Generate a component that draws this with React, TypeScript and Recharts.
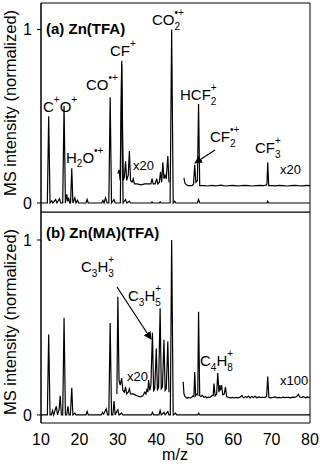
import React from 'react';
import { LineChart, Line, XAxis, YAxis, ReferenceArea } from 'recharts';

type Pt = [number, number];

const FONT = '"Liberation Sans", Arial, Helvetica, sans-serif';

// m/z axis
const MAJOR_TICKS = [10, 20, 30, 40, 50, 60, 70, 80];
const MINOR_TICKS = Array.from({ length: 71 }, (_, i) => 10 + i);
const Y_TICKS = [0, 1];

const TOP_DOMAIN: [number, number] = [-0.052, 1.153];
const BOT_DOMAIN: [number, number] = [-0.046, 1.16];

// (a) Zn(TFA), main trace
const topMain: Pt[] = [
  [10, 0], [11.65, 0], [12, 0.5], [12.35, 0], [12.8, 0.012], [13.1, 0], [13.8, 0.02], [14.15, 0],
  [14.8, 0.025], [15.15, 0], [15.65, 0], [16, 0.56], [16.35, 0], [16.7, 0.05], [16.95, 0.01],
  [17.2, 0.03], [17.45, 0], [17.7, 0], [18, 0.2], [18.3, 0], [18.8, 0.03], [19.1, 0], [19.5, 0.015],
  [19.8, 0], [21.7, 0], [22, 0.02], [22.3, 0], [25.8, 0], [26.1, 0.015], [26.4, 0], [26.8, 0.03],
  [27.2, 0], [27.65, 0], [28, 0.61], [28.35, 0], [29, 0.02], [29.3, 0], [30.65, 0], [31, 0.82],
  [31.35, 0], [32, 0.02], [32.3, 0], [33, 0.01], [33.3, 0], [38.7, 0], [38.9, 0.006], [39.1, 0],
  [40.8, 0], [41, 0.006], [41.2, 0], [43.6, 0], [44, 1.0], [44.4, 0], [44.8, 0.01], [45.1, 0],
  [50.7, 0], [51, 0.02], [51.3, 0], [68.8, 0], [69, 0.01], [69.2, 0], [80, 0],
];

// (a) x20 trace, two pieces
const topX20A: Pt[] = [
  [30.0, 0.17], [30.3, 0.19], [30.6, 0.13], [31, 0.8], [31.4, 0.13], [31.7, 0.15], [32, 0.24],
  [32.3, 0.13], [32.7, 0.16], [33, 0.3], [33.3, 0.13], [33.7, 0.12], [34, 0.14], [34.3, 0.11],
  [35, 0.11], [36, 0.105], [37, 0.11], [38, 0.11], [38.6, 0.11], [38.9, 0.14], [39.2, 0.11],
  [39.7, 0.11], [40.1, 0.14], [40.4, 0.11], [40.8, 0.12], [41.1, 0.18], [41.4, 0.12], [41.7, 0.235],
  [42.0, 0.14], [42.3, 0.16], [42.6, 0.14], [43, 0.27], [43.3, 0.12],
];

const topX20B: Pt[] = [
  [47.2, 0.145], [47.45, 0.115], [47.8, 0.105], [48.3, 0.1], [48.8, 0.1], [49.3, 0.1], [49.7, 0.11],
  [50, 0.22], [50.3, 0.12], [50.7, 0.13], [51, 0.57], [51.3, 0.1], [51.8, 0.1], [52.5, 0.1],
  [53.2, 0.098], [54, 0.1], [54.6, 0.102], [55.3, 0.099], [56, 0.1], [56.8, 0.103], [57.5, 0.1],
  [58.2, 0.098], [59, 0.1], [60, 0.101], [61, 0.099], [62, 0.1], [63, 0.102], [64, 0.1], [65, 0.098],
  [66, 0.1], [67, 0.101], [68, 0.1], [68.6, 0.103], [68.8, 0.11], [69, 0.235], [69.25, 0.1],
  [70, 0.1], [71, 0.099], [72, 0.101], [73, 0.1], [74, 0.098], [75, 0.1], [76, 0.102], [77, 0.1],
  [78, 0.099], [79, 0.101], [80, 0.1],
];

// (b) Zn(MA)(TFA), main trace
const botMain: Pt[] = [
  [10, 0], [11.65, 0], [12, 0.46], [12.35, 0], [12.7, 0], [13, 0.025], [13.3, 0], [13.7, 0.03],
  [14, 0.05], [14.3, 0], [14.7, 0.03], [15, 0.11], [15.3, 0], [15.65, 0], [16, 0.555], [16.35, 0],
  [16.7, 0], [17, 0.05], [17.3, 0], [17.65, 0], [18, 0.155], [18.3, 0], [18.8, 0.01], [19.1, 0],
  [21.7, 0], [22, 0.02], [22.3, 0], [25.7, 0], [26, 0.015], [26.3, 0.005], [27, 0.035], [27.3, 0],
  [27.65, 0], [28, 0.525], [28.35, 0], [28.7, 0], [29, 0.08], [29.3, 0], [29.7, 0.02], [30, 0.03],
  [30.3, 0], [31, 0.01], [31.3, 0], [38.7, 0], [39, 0.015], [39.3, 0], [40.7, 0], [41, 0.025],
  [41.3, 0], [42, 0.015], [42.3, 0], [43, 0.02], [43.3, 0], [43.65, 0], [44, 1.0], [44.4, 0],
  [45, 0.01], [45.3, 0], [50.8, 0], [51, 0.01], [51.3, 0], [80, 0],
];

// (b) x20 trace
const botX20: Pt[] = [
  [29.75, 0.12], [30, 0.675], [30.3, 0.2], [30.6, 0.17], [31, 0.21], [31.3, 0.14], [31.7, 0.13],
  [32, 0.16], [32.3, 0.12], [32.7, 0.13], [33, 0.15], [33.3, 0.12], [34, 0.12], [34.5, 0.115],
  [35, 0.11], [35.5, 0.105], [36, 0.105], [36.5, 0.11], [37, 0.13], [37.3, 0.12], [37.6, 0.15],
  [37.8, 0.13], [38, 0.2], [38.3, 0.14], [38.6, 0.17], [39, 0.47], [39.3, 0.14], [39.6, 0.15],
  [40, 0.38], [40.3, 0.14], [40.6, 0.16], [41, 0.61], [41.3, 0.15], [41.6, 0.16], [42, 0.43],
  [42.3, 0.14], [42.6, 0.15], [43, 0.42], [43.3, 0.13],
];

// (b) x100 trace
const botX100: Pt[] = [
  [47, 0.19], [47.2, 0.12], [47.5, 0.105], [48, 0.095], [48.4, 0.1], [48.8, 0.097], [49.2, 0.1],
  [49.6, 0.11], [49.8, 0.105], [50, 0.245], [50.25, 0.11], [50.6, 0.12], [50.8, 0.115], [51, 0.59],
  [51.3, 0.11], [51.6, 0.105], [52, 0.112], [52.4, 0.1], [52.8, 0.105], [53.2, 0.098], [53.6, 0.102],
  [54, 0.1], [54.5, 0.11], [54.8, 0.11], [55, 0.18], [55.3, 0.11], [55.7, 0.12], [56, 0.24],
  [56.3, 0.13], [56.5, 0.17], [56.7, 0.14], [57, 0.17], [57.3, 0.115], [57.7, 0.12], [58, 0.16],
  [58.3, 0.105], [58.8, 0.1], [59.3, 0.098], [59.8, 0.1], [60.3, 0.097], [60.8, 0.1], [61.3, 0.098],
  [61.8, 0.102], [62.3, 0.11], [62.7, 0.098], [63.2, 0.105], [63.6, 0.1], [64, 0.108], [64.4, 0.097],
  [64.8, 0.106], [65.3, 0.1], [65.7, 0.107], [66.2, 0.098], [66.7, 0.103], [67.2, 0.1], [67.7, 0.1],
  [68.3, 0.1], [68.7, 0.105], [69, 0.22], [69.3, 0.1], [69.8, 0.098], [70.4, 0.1], [71, 0.103],
  [71.5, 0.098], [72, 0.1], [72.5, 0.097], [73, 0.102], [73.5, 0.099], [74, 0.1], [74.5, 0.1],
  [75, 0.098], [75.5, 0.102], [76, 0.1], [76.5, 0.105], [77, 0.118], [77.3, 0.103], [77.8, 0.1],
  [78.3, 0.105], [78.8, 0.098], [79.3, 0.103], [79.7, 0.1], [80, 0.1],
];

const toRows = (pts: Pt[]) => pts.map(([x, y]) => ({ x, y }));

const trace = (pts: Pt[], key: string) => (
  <Line
    key={key}
    xAxisId="minor"
    data={toRows(pts)}
    dataKey="y"
    type="linear"
    dot={false}
    activeDot={false}
    stroke="#000"
    strokeWidth={1.2}
    isAnimationActive={false}
  />
);

const tickAxes = (orientation: 'top' | 'bottom') => [
  <XAxis
    key="minor"
    xAxisId="minor"
    type="number"
    dataKey="x"
    domain={[10, 80]}
    allowDataOverflow
    orientation={orientation}
    ticks={MINOR_TICKS}
    interval={0}
    tick={false}
    tickSize={-3}
    axisLine={false}
    height={0}
    stroke="#000"
  />,
  <XAxis
    key="major"
    xAxisId="major"
    type="number"
    dataKey="x"
    domain={[10, 80]}
    allowDataOverflow
    orientation={orientation}
    ticks={MAJOR_TICKS}
    interval={0}
    tick={false}
    tickSize={-6}
    axisLine={false}
    height={0}
    stroke="#000"
  />,
];

const yAxis = (domain: [number, number]) => (
  <YAxis
    type="number"
    domain={domain}
    allowDataOverflow
    ticks={Y_TICKS}
    interval={0}
    width={41}
    tickSize={4}
    tickMargin={5}
    stroke="#000"
    tick={{ fontSize: 16, fill: '#000', fontFamily: FONT }}
  />
);

const T = { fontFamily: FONT, fontSize: 15, fill: '#000' } as const;
const S = 10; // script size

function Overlay() {
  return (
    <svg width={320} height={468} style={{ position: 'absolute', left: 0, top: 0, pointerEvents: 'none' }}>
      <defs>
        <marker id="ah" markerWidth="8" markerHeight="8" refX="7" refY="4" orient="auto" markerUnits="userSpaceOnUse">
          <path d="M0,0 L8,4 L0,8 Z" fill="#000" />
        </marker>
      </defs>
      <g style={T as any}>
        {/* y axis titles */}
        <text x={16} y={103} textAnchor="middle" transform="rotate(-90 16 103)" fontSize={16.5}>MS intensity (normalized)</text>
        <text x={16} y={322} textAnchor="middle" transform="rotate(-90 16 322)" fontSize={16.5}>MS intensity (normalized)</text>
        <text x={175} y={460} textAnchor="middle" fontSize={16}>m/z</text>

        {/* panel a */}
        <text x={46} y={34} fontWeight="bold">(a) Zn(TFA)</text>
        <text x={43} y={112}>C<tspan dy={-9} fontSize={S}>+</tspan><tspan dy={9}>O</tspan><tspan dy={-9} fontSize={S}>+</tspan></text>
        <text x={86} y={90}>CO<tspan dy={-9} fontSize={S}>•+</tspan></text>
        <text x={110} y={56}>CF<tspan dy={-9} fontSize={S}>+</tspan></text>
        <text x={66} y={163}>H<tspan dy={4} fontSize={S}>2</tspan><tspan dy={-4}>O</tspan><tspan dy={-9} fontSize={S}>•+</tspan></text>
        <text x={152} y={25}>CO<tspan dy={5} fontSize={S}>2</tspan><tspan dx={-5.6} dy={-14} fontSize={S}>•+</tspan></text>
        <text x={180} y={100}>HCF<tspan dy={5} fontSize={S}>2</tspan><tspan dx={-5.6} dy={-14} fontSize={S}>+</tspan></text>
        <text x={210} y={142}>CF<tspan dy={5} fontSize={S}>2</tspan><tspan dx={-5.6} dy={-14} fontSize={S}>•+</tspan></text>
        <text x={255} y={153}>CF<tspan dy={5} fontSize={S}>3</tspan><tspan dx={-5.6} dy={-14} fontSize={S}>+</tspan></text>
        <text x={133} y={170} fontSize={13}>x20</text>
        <text x={280} y={174} fontSize={13}>x20</text>
        <line x1={215} y1={150} x2={195} y2={163} stroke="#000" strokeWidth={1.2} markerEnd="url(#ah)" />

        {/* panel b */}
        <text x={46} y={238} fontWeight="bold">(b) Zn(MA)(TFA)</text>
        <text x={81} y={272}>C<tspan dy={5} fontSize={S}>3</tspan><tspan dy={-5}>H</tspan><tspan dy={5} fontSize={S}>3</tspan><tspan dx={-5.6} dy={-14} fontSize={S}>+</tspan></text>
        <text x={128} y={301}>C<tspan dy={5} fontSize={S}>3</tspan><tspan dy={-5}>H</tspan><tspan dy={5} fontSize={S}>5</tspan><tspan dx={-5.6} dy={-14} fontSize={S}>+</tspan></text>
        <text x={200} y={366}>C<tspan dy={5} fontSize={S}>4</tspan><tspan dy={-5}>H</tspan><tspan dy={5} fontSize={S}>8</tspan><tspan dx={-5.6} dy={-14} fontSize={S}>+</tspan></text>
        <text x={127} y={381} fontSize={13}>x20</text>
        <text x={280} y={385} fontSize={13}>x100</text>
        <line x1={117} y1={287} x2={151} y2={339} stroke="#000" strokeWidth={1.2} markerEnd="url(#ah)" />
      </g>
    </svg>
  );
}

export default function App() {
  return (
    <div style={{ position: 'absolute', left: 0, top: 0, width: 320, height: 468, background: '#fff', fontFamily: FONT }}>
      <div style={{ position: 'absolute', left: 0, top: 0 }}>
        <LineChart width={320} height={215} margin={{ top: 3, right: 10, bottom: 3, left: 0 }}>
          {tickAxes('top')}
          {yAxis(TOP_DOMAIN)}
          <ReferenceArea xAxisId="minor" x1={10} x2={80} y1={TOP_DOMAIN[0]} y2={TOP_DOMAIN[1]} fill="none" stroke="#000" strokeWidth={1} ifOverflow="visible" />
          {trace(topMain, 'tm')}
          {trace(topX20A, 'ta')}
          {trace(topX20B, 'tb')}
        </LineChart>
      </div>
      <div style={{ position: 'absolute', left: 0, top: 212 }}>
        <LineChart width={320} height={256} margin={{ top: 0, right: 10, bottom: 15, left: 0 }}>
          {tickAxes('bottom')}
          <XAxis
            xAxisId="labels"
            type="number"
            dataKey="x"
            domain={[10, 80]}
            allowDataOverflow
            orientation="bottom"
            ticks={MAJOR_TICKS}
            interval={0}
            tickLine={false}
            axisLine={false}
            tickSize={0}
            tickMargin={11}
            height={30}
            tick={{ fontSize: 16, fill: '#000', fontFamily: FONT }}
          />
          {yAxis(BOT_DOMAIN)}
          <ReferenceArea xAxisId="minor" x1={10} x2={80} y1={BOT_DOMAIN[0]} y2={BOT_DOMAIN[1]} fill="none" stroke="#000" strokeWidth={1} ifOverflow="visible" />
          {trace(botMain, 'bm')}
          {trace(botX20, 'bx')}
          {trace(botX100, 'bh')}
        </LineChart>
      </div>
      <Overlay />
    </div>
  );
}
